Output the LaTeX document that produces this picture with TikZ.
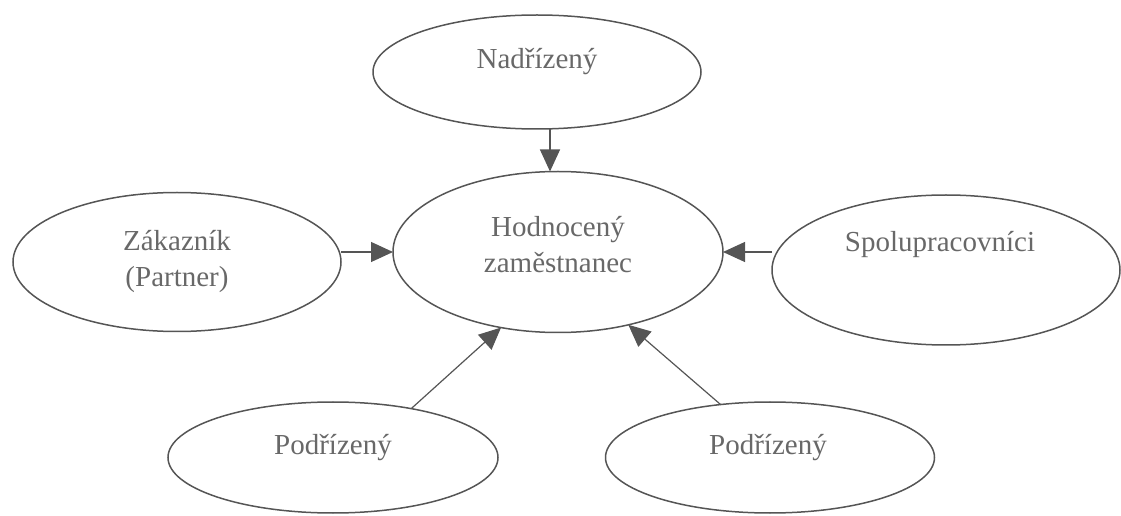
\documentclass[tikz,border=0pt]{standalone}
\usepackage{fontspec}
\setmainfont{Liberation Serif}
\usepackage{tikz}
\usetikzlibrary{arrows.meta, shapes.geometric, calc}
\definecolor{eline}{HTML}{555555}
\definecolor{etext}{HTML}{686868}
\tikzset{
  bub/.style={draw=eline, ellipse, line width=0.75pt, inner sep=0pt, outer sep=0pt},
  lbl/.style={text=etext, font=\fontsize{14.5}{18}\selectfont, align=center},
  arr/.style={-{Triangle[length=11pt, width=10pt]}, line width=0.6pt, eline},
}
\begin{document}
\begin{tikzpicture}[x=0.5pt, y=0.5pt]
  \useasboundingbox (0,0) rectangle (1121,515);
  % ellipses
  \node[bub, minimum width=164pt, minimum height=57pt,
        label={[lbl, yshift=5pt]center:Nadřízený}] (nad) at (537,443) {};
  \node[bub, minimum width=165pt, minimum height=80.5pt,
        label={[lbl, yshift=3.5pt]center:Hodnocený\\zaměstnanec}] (hod) at (558,263) {};
  \node[bub, minimum width=164pt, minimum height=69.5pt,
        label={[lbl]center:Zákazník\\(Partner)}] (zak) at (177,253) {};
  \node[bub, minimum width=174pt, minimum height=75pt,
        label={[lbl, yshift=12.5pt, xshift=-3pt]center:Spolupracovníci}] (spol) at (946,245) {};
  \node[bub, minimum width=165pt, minimum height=55.5pt,
        label={[lbl, yshift=5pt]center:Podřízený}] (pod1) at (333,57.5) {};
  \node[bub, minimum width=164.5pt, minimum height=55.5pt,
        label={[lbl, yshift=5pt, xshift=-1pt]center:Podřízený}] (pod2) at (770,57.5) {};
  % arrows
  \draw[arr] ([xshift=-4pt]hod.north |- nad.south) -- ([xshift=-4pt]hod.north);
  \draw[arr] (zak.east |- hod.west) -- (hod.west);
  \draw[arr] (spol.west |- hod.east) -- (hod.east);
  \draw[arr] (pod1.32.5) -- (hod.233.5);
  \draw[arr] (pod2.133.7) -- (hod.314.6);
\end{tikzpicture}
\end{document}
